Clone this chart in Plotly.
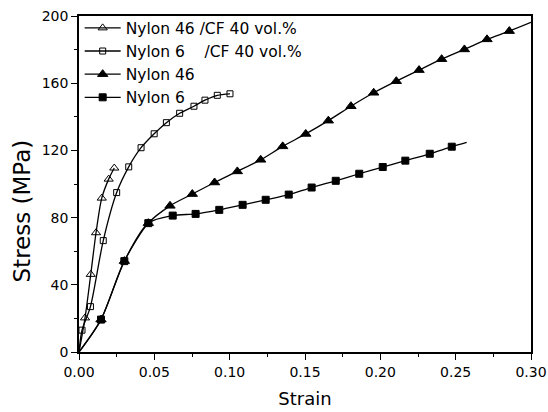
import plotly.graph_objects as go

# ---- data ----
# Nylon 46 / CF 40 vol.% (open triangles)
n46cf_x = [0.0040, 0.0078, 0.0113, 0.0151, 0.0197, 0.0234]
n46cf_y = [20.3, 46.2, 71.0, 91.6, 102.9, 109.5]
n46cf_line_x = [0.0, 0.0040, 0.0078, 0.0113, 0.0151, 0.0197, 0.0234]
n46cf_line_y = [0.0, 20.3, 46.2, 71.0, 91.6, 102.9, 109.5]

# Nylon 6 / CF 40 vol.% (open squares)
n6cf_x = [0.0020, 0.0076, 0.0161, 0.0250, 0.0330, 0.0412, 0.0499, 0.0580,
          0.0668, 0.0763, 0.0836, 0.0918, 0.1002]
n6cf_y = [13.0, 27.0, 66.3, 94.9, 110.2, 121.6, 129.9, 136.5, 142.1,
          146.3, 149.9, 152.8, 153.7]
n6cf_line_x = [0.0] + n6cf_x
n6cf_line_y = [0.0] + n6cf_y

# Nylon 46 (filled triangles)
n46_x = [0.0146, 0.0301, 0.0460, 0.0604, 0.0752, 0.0900, 0.1051, 0.1206,
         0.1352, 0.1505, 0.1655, 0.1805, 0.1956, 0.2106, 0.2257, 0.2407,
         0.2558, 0.2708, 0.2856]
n46_y = [19.3, 54.1, 76.7, 87.0, 94.0, 100.9, 107.5, 114.4, 122.4, 129.8,
         137.7, 146.3, 154.3, 161.2, 167.8, 174.3, 180.1, 186.1, 191.0]
n46_line_x = [0.0] + n46_x + [0.300]
n46_line_y = [0.0] + n46_y + [196.2]

# Nylon 6 (filled squares)
n6_x = [0.0146, 0.0301, 0.0460, 0.0622, 0.0774, 0.0931, 0.1086, 0.1239,
        0.1392, 0.1544, 0.1704, 0.1860, 0.2016, 0.2166, 0.2328, 0.2474]
n6_y = [19.3, 54.1, 76.7, 81.2, 82.2, 84.6, 87.6, 90.6, 93.7, 97.9, 101.9,
        106.1, 110.1, 113.9, 118.0, 122.2]
n6_line_x = [0.0] + n6_x + [0.2573]
n6_line_y = [0.0] + n6_y + [124.8]

series = [
    ("Nylon 46 /CF 40 vol.%", n46cf_line_x, n46cf_line_y, n46cf_x, n46cf_y, "triangle-up-open", 8),
    ("Nylon 6\u00a0\u00a0\u00a0 /CF 40 vol.%", n6cf_line_x, n6cf_line_y, n6cf_x, n6cf_y, "square-open", 6),
    ("Nylon 46", n46_line_x, n46_line_y, n46_x, n46_y, "triangle-up", 9),
    ("Nylon 6", n6_line_x, n6_line_y, n6_x, n6_y, "square", 7),
]

x_ticks = [0.00, 0.05, 0.10, 0.15, 0.20, 0.25, 0.30]
y_ticks = [0, 40, 80, 120, 160, 200]

FONT = "DejaVu Sans, Verdana, sans-serif"
fig = go.Figure()

for name, lx, ly, mx, my, sym, ms in series:
    fig.add_trace(go.Scatter(x=lx, y=ly, mode="lines",
                             line=dict(color="black", width=1.3, shape="spline", smoothing=0.8),
                             showlegend=False, hoverinfo="skip"))
for name, lx, ly, mx, my, sym, ms in series:
    fig.add_trace(go.Scatter(x=mx, y=my, mode="markers",
                             marker=dict(symbol=sym, size=ms, color="black",
                                         line=dict(color="black", width=1)),
                             showlegend=False))
for name, lx, ly, mx, my, sym, ms in series:
    fig.add_trace(go.Scatter(x=[None], y=[None], mode="lines+markers", name=name,
                             line=dict(color="black", width=1.3),
                             marker=dict(symbol=sym, size=ms, color="black",
                                         line=dict(color="black", width=1))))

fig.update_layout(
    width=548, height=412,
    margin=dict(l=79, r=17, t=16, b=60, autoexpand=False),
    paper_bgcolor="white", plot_bgcolor="white",
    font=dict(family=FONT, color="black", size=14),
    showlegend=True,
    legend=dict(x=0.0015, y=1.014, xanchor="left", yanchor="top",
                bgcolor="rgba(0,0,0,0)", borderwidth=0,
                font=dict(family=FONT, size=15.5, color="black"),
                itemwidth=36, tracegroupgap=0),
    xaxis=dict(range=[0, 0.30], tickvals=x_ticks, tickformat=".2f",
               showgrid=False, zeroline=False, automargin=False,
               showline=True, linecolor="black", linewidth=1.5, mirror=True,
               ticks="outside", ticklen=6, tickwidth=1.2, tickcolor="black",
               minor=dict(dtick=0.025, ticks="outside", ticklen=3, tickwidth=1, tickcolor="black"),
               tickfont=dict(size=14),
               title=dict(text="Strain", font=dict(size=18), standoff=14)),
    yaxis=dict(range=[0, 200], tickvals=y_ticks,
               showgrid=False, zeroline=False, automargin=False,
               showline=True, linecolor="black", linewidth=1.5, mirror=True,
               ticks="outside", ticklen=6, tickwidth=1.2, tickcolor="black",
               minor=dict(dtick=20, ticks="outside", ticklen=3, tickwidth=1, tickcolor="black"),
               tickfont=dict(size=14)),
    annotations=[dict(text="Stress (MPa)", xref="paper", yref="paper",
                      x=-0.127, y=0.42, xanchor="center", yanchor="middle",
                      textangle=-90, showarrow=False, font=dict(size=23))],
)

fig.write_html("out.html",
               config={"displayModeBar": False},
               post_script="document.body.style.margin='0';document.body.style.overflow='hidden';")
